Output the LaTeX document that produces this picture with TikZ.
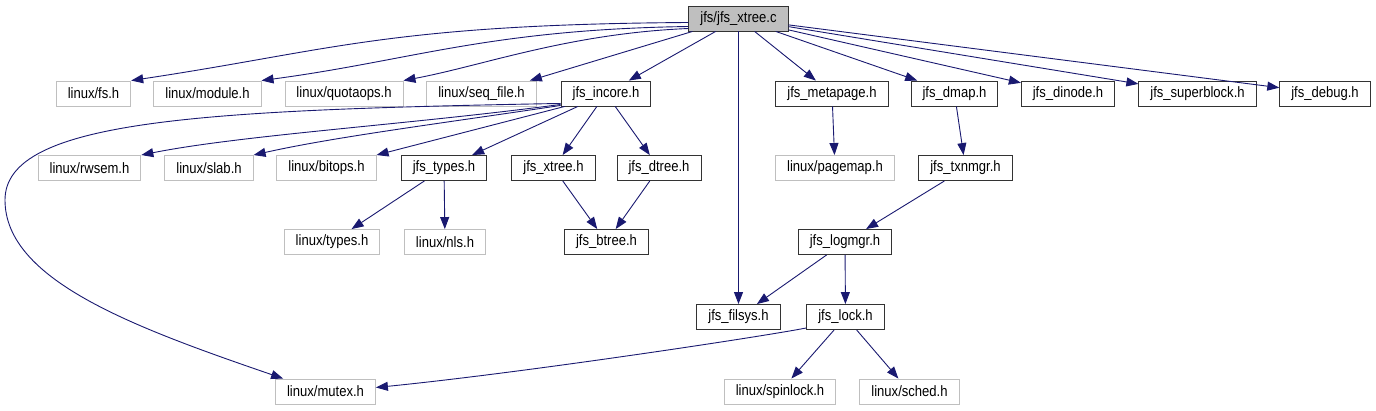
\documentclass[tikz,border=0pt]{standalone}
\usepackage{fontspec}
\setmainfont{Liberation Sans}[FakeStretch=0.87]
\usetikzlibrary{arrows.meta}
\definecolor{edgeblue}{RGB}{25,25,112}
\definecolor{boxgray}{RGB}{191,191,191}
\tikzset{
  hdr/.style={draw=black!80, line width=0.9pt, fill=white, minimum height=25pt,
    inner xsep=11.5pt, inner ysep=0pt, font=\fontsize{15}{17}\selectfont},
  syshdr/.style={hdr, draw=boxgray},
  inc/.style={draw=edgeblue, line width=0.9pt, -{Triangle[length=12pt,width=9pt]}}
}
\begin{document}
\begin{tikzpicture}[x=1pt,y=-1pt]
\useasboundingbox (0,0) rectangle (1376,411);
\node[hdr,fill=boxgray] (xtreec) at (738.5,18.5) {jfs/jfs\_xtree.c};
\node[syshdr] (fs) at (93.5,93.5) {linux/fs.h};
\node[syshdr] (module) at (207.5,93.5) {linux/module.h};
\node[syshdr] (quota) at (344,93.5) {linux/quotaops.h};
\node[syshdr] (seqfile) at (481.5,93.5) {linux/seq\_file.h};
\node[hdr] (incore) at (606,93.5) {jfs\_incore.h};
\node[hdr] (metapage) at (832,93.5) {jfs\_metapage.h};
\node[hdr] (dmap) at (954.5,93.5) {jfs\_dmap.h};
\node[hdr] (dinode) at (1068,93.5) {jfs\_dinode.h};
\node[hdr] (superblock) at (1197.5,93.5) {jfs\_superblock.h};
\node[hdr] (debug) at (1325,93.5) {jfs\_debug.h};
\node[syshdr] (rwsem) at (89.5,168) {linux/rwsem.h};
\node[syshdr] (slab) at (209,168) {linux/slab.h};
\node[syshdr] (bitops) at (326.5,168) {linux/bitops.h};
\node[hdr] (types) at (444,168) {jfs\_types.h};
\node[hdr] (xtreeh) at (553.5,168) {jfs\_xtree.h};
\node[hdr] (dtree) at (659,168) {jfs\_dtree.h};
\node[syshdr] (pagemap) at (835,168) {linux/pagemap.h};
\node[hdr] (txnmgr) at (965.5,168) {jfs\_txnmgr.h};
\node[syshdr] (ltypes) at (332,242) {linux/types.h};
\node[syshdr] (nls) at (445,242) {linux/nls.h};
\node[hdr] (btree) at (606.5,242) {jfs\_btree.h};
\node[hdr] (logmgr) at (845,242) {jfs\_logmgr.h};
\node[hdr] (filsys) at (738.5,317) {jfs\_filsys.h};
\node[hdr] (lock) at (845.5,317) {jfs\_lock.h};
\node[syshdr] (mutex) at (325.5,391.5) {linux/mutex.h};
\node[syshdr] (spinlock) at (780,391.5) {linux/spinlock.h};
\node[syshdr] (sched) at (909.5,391.5) {linux/sched.h};

\draw[inc] ([yshift=-4pt]xtreec.west) .. controls +(-300,2) and +(200,-30) .. (fs.north east);
\draw[inc] ([yshift=-8pt]xtreec.west) .. controls +(-200,3) and +(150,-20) .. (module.north east);
\draw[inc] ([yshift=-10pt]xtreec.west) .. controls +(-120,5) and +(80,-15) .. (quota.north east);
\draw[inc] ([xshift=4pt]xtreec.south west) -- (seqfile.15);
\draw[inc] (xtreec) -- (incore);
\draw[inc] (xtreec) -- (filsys);
\draw[inc] (xtreec) -- (metapage);
\draw[inc] (xtreec) -- (dmap);
\draw[inc] (xtreec) -- (dinode);
\draw[inc] (xtreec) -- (superblock);
\draw[inc] (xtreec) -- (debug);

\draw[inc] ([yshift=3pt]incore.south west) .. controls (200,110) and (5,120) .. (5,200)
  .. controls (5,280) and (133,327) .. ([xshift=8pt]mutex.north west);
\draw[inc] ([yshift=2pt]incore.south west) .. controls +(-150,20) and +(100,-20) .. (rwsem.north east);
\draw[inc] ([yshift=1pt]incore.south west) .. controls +(-120,18) and +(80,-18) .. (slab.north east);
\draw[inc] ([xshift=4pt]incore.south west) -- (bitops.north east);
\draw[inc] (incore) -- (types);
\draw[inc] (incore) -- (xtreeh);
\draw[inc] (incore) -- (dtree);

\draw[inc] (types) -- (ltypes);
\draw[inc] (types) -- (nls);
\draw[inc] (xtreeh) -- (btree);
\draw[inc] (dtree) -- (btree);
\draw[inc] (metapage) -- (pagemap);
\draw[inc] (dmap) -- (txnmgr);
\draw[inc] (txnmgr) -- (logmgr);
\draw[inc] (logmgr) -- (filsys);
\draw[inc] (logmgr) -- (lock);
\draw[inc] ([yshift=2pt]lock.south west) .. controls +(-40,8) and +(150,-15) .. ([yshift=4pt]mutex.east);
\draw[inc] (lock) -- (spinlock);
\draw[inc] (lock) -- (sched);
\end{tikzpicture}
\end{document}
